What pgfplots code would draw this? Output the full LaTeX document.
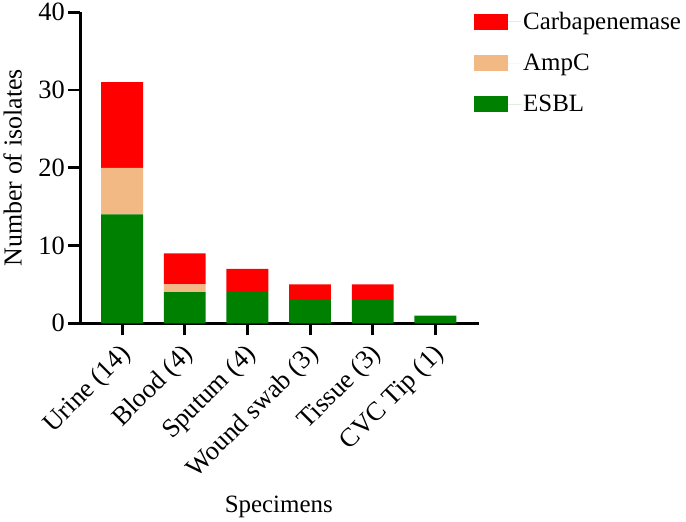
\documentclass[border=0pt]{standalone}
\usepackage{pgfplots}
\pgfplotsset{compat=1.18}
\usepackage{pgfplotstable}
\usepackage{fontspec}
\setmainfont{Liberation Serif}
\newcommand\bigf{\fontsize{25}{30}\selectfont}
\newcommand\tickf{\fontsize{26.5}{31}\selectfont}
\definecolor{carb}{RGB}{255,0,0}
\definecolor{ampc}{RGB}{242,185,132}
\definecolor{esbl}{RGB}{0,128,0}

\pgfplotstableread{
x ESBL AmpC Carb
0 14 6 11
1 4 1 4
2 4 0 3
3 3 0 2
4 3 0 2
5 1 0 0
}\specimens

\begin{document}
\begin{tikzpicture}
\begin{axis}[
    scale only axis,
    width=400pt, height=312pt,
    ybar stacked,
    bar width=42pt,
    xmin=-0.667, xmax=5.7,
    ymin=0, ymax=40,
    axis x line*=bottom,
    axis y line*=left,
    axis line style={line width=3pt},
    xtick=data,
    xticklabels={Urine (14), Blood (4), Sputum (4), Wound swab (3), Tissue (3), CVC Tip (1)},
    ytick={0,10,20,30,40},
    tick align=outside,
    major tick length=12pt,
    tick style={line width=3pt, black},
    tick label style={font=\tickf},
    /pgf/number format/assume math mode=true,
    xticklabel style={rotate=45, anchor=east, xshift=-4pt, yshift=-14.5pt},
    ylabel={Number of isolates},
    xlabel={Specimens},
    label style={font=\bigf},
    ylabel style={at={(rel axis cs:-0.17,0.5)}, anchor=center, font=\fontsize{26}{31}\selectfont},
    xlabel style={at={(rel axis cs:0.4975,-0.59)}, anchor=center},
    every axis plot/.append style={draw=none,
        legend image code/.code={\fill[##1] (0pt,-8pt) rectangle (34pt,8pt);
            \path (0pt,0pt) -- (47pt,0pt);}},
    reverse legend,
    legend style={at={(rel axis cs:0.98,1.013)}, anchor=north west,
        draw=none, fill=none, font=\bigf, row sep=19pt},
    legend cell align=left,
]
    \addplot[fill=esbl] table[x=x, y=ESBL] {\specimens};
    \addlegendentry{ESBL}
    \addplot[fill=ampc] table[x=x, y=AmpC] {\specimens};
    \addlegendentry{AmpC}
    \addplot[fill=carb] table[x=x, y=Carb] {\specimens};
    \addlegendentry{Carbapenemase}
\end{axis}
\end{tikzpicture}
\end{document}
